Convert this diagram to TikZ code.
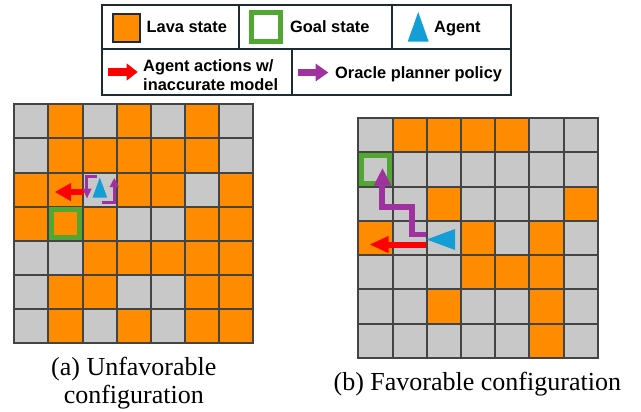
\documentclass[tikz,border=0pt]{standalone}
\usepackage{fontspec}
\setmainfont{Liberation Serif}
\newfontfamily\legfont{Liberation Sans}
\definecolor{lavaC}{RGB}{255,140,0}
\definecolor{freeC}{RGB}{200,200,200}
\definecolor{lineC}{RGB}{68,68,68}
\definecolor{goalC}{RGB}{82,166,50}
\definecolor{agentC}{RGB}{20,158,214}
\definecolor{actC}{RGB}{255,0,0}
\definecolor{oracleC}{RGB}{160,50,160}
\definecolor{frameC}{RGB}{30,42,52}
\newcommand\mkgrid[4]{%
  \fill[freeC] (#1,#2) rectangle ({#1+7*#3},{#2+7*#3});
  \foreach \cc/\rr in {#4} \fill[lavaC] ({#1+\cc*#3},{#2+\rr*#3}) rectangle ++(#3,#3);
  \foreach \kk in {0,...,7} {
    \draw[gridline] ({#1+\kk*#3},#2) -- ({#1+\kk*#3},{#2+7*#3});
    \draw[gridline] (#1,{#2+\kk*#3}) -- ({#1+7*#3},{#2+\kk*#3});
  }
  \draw[gridline] (#1,#2) rectangle ({#1+7*#3},{#2+7*#3});
}
\begin{document}
\begin{tikzpicture}[x=1pt,y=-1pt,
  gridline/.style={draw=lineC,line width=2pt},
  frame/.style={draw=frameC,line width=1.8pt},
  legtext/.style={font=\legfont\bfseries\fontsize{16.4}{19.6}\selectfont,inner sep=0pt},
  captext/.style={font=\fontsize{26}{28}\selectfont,inner sep=0pt},
  goalframe/.style={draw=goalC,line width=5pt},
  oracle/.style={draw=oracleC,line join=miter},
  act/.style={draw=actC}]
\useasboundingbox (0,0) rectangle (641,412);

% ---------- legend ----------
\draw[frame] (101.7,4.7) rectangle (510.7,95.3);
\draw[frame] (101.7,49) -- (510.7,49);
\draw[frame] (239.3,4.7) -- (239.3,49);
\draw[frame] (391.7,4.7) -- (391.7,49);
\draw[frame] (291.7,49) -- (291.7,95.3);

\filldraw[fill=lavaC,draw=frameC,line width=2pt] (113.3,14.3) rectangle (140,41.7);
\draw[goalframe] (251.8,12.5) rectangle (280.8,41.8);
\fill[agentC] (418.2,12) -- (428.7,41.7) -- (407.7,41.7) -- cycle;
\draw[act,line width=7.5pt] (108,72) -- (127.5,72);
\fill[actC] (126.5,63.3) -- (137.7,72) -- (126.5,80.7) -- cycle;
\draw[oracle,line width=7.5pt] (298,72.5) -- (316.5,72.5);
\fill[oracleC] (315.5,63.5) -- (328.3,72.5) -- (315.5,81.5) -- cycle;

\node[legtext,anchor=base west] (tLava) at (146.5,32.3) {Lava state};
\node[legtext,anchor=base west] (tGoal) at (290,32.3) {Goal state};
\node[legtext,anchor=base west] (tAgent) at (434,32.3) {Agent};
\node[legtext,anchor=base west] (tAct1) at (143,71.5) {Agent actions w/};
\node[legtext,anchor=base west] (tAct2) at (143,90.7) {inaccurate model};
\node[legtext,anchor=base west] (tOracle) at (335,78.3) {Oracle planner policy};

% ---------- left grid (unfavorable) ----------
\mkgrid{14.3}{104.3}{34.14}{1/0,3/0,5/0, 1/1,2/1,3/1,4/1,5/1, 0/2,1/2,3/2,4/2,6/2, 0/3,1/3,2/3,5/3,6/3, 2/4,3/4,4/4,5/4,6/4, 1/5,2/5,5/5,6/5, 1/6,3/6,5/6,6/6}
\draw[goalframe] (51.6,209.9) rectangle (79.3,237.6);
% red action
\draw[act,line width=5.5pt] (84,192) -- (70,192);
\fill[actC] (71,183) -- (55,192) -- (71,201.2) -- cycle;
% purple oracle loops
\draw[oracle,line width=3pt] (97,176.3) -- (86.8,176.3) -- (86.8,190);
\fill[oracleC] (82.6,188.7) -- (91.6,188.7) -- (87,198.3) -- cycle;
\draw[oracle,line width=3pt] (101.5,202.3) -- (114.5,202.3) -- (114.5,186);
\fill[oracleC] (109.6,187) -- (119,187) -- (114.3,178) -- cycle;
% agent
\fill[agentC] (99.8,177.5) -- (107.2,197.5) -- (92.6,197.5) -- cycle;

% ---------- right grid (favorable) ----------
\mkgrid{358.3}{118.3}{34.2}{1/0,2/0,3/0,4/0, 2/2,6/2, 0/3,3/3,5/3, 3/4,4/4,5/4, 2/5,5/5, 5/6}
\draw[goalframe] (361.3,155.5) rectangle (389.5,183.7);
% red action
\draw[act,line width=6pt] (426,244.5) -- (387,244.5);
\fill[actC] (388.5,236) -- (370,244.5) -- (388.5,253.2) -- cycle;
% purple oracle path
\draw[oracle,line width=5.6pt] (426,234.5) -- (412,234.5) -- (412,207.2) -- (382.2,207.2) -- (382.2,185);
\fill[oracleC] (373.8,185.5) -- (391.2,185.5) -- (382.5,168.3) -- cycle;
% agent
\fill[agentC] (426.7,239.5) -- (455,229) -- (455,250) -- cycle;

% ---------- captions ----------
\node[captext,anchor=base] (capA1) at (133.8,375) {(a) Unfavorable};
\node[captext,anchor=base] (capA2) at (133.8,403) {configuration};
\node[captext,anchor=base] (capB) at (477.3,390.7) {(b) Favorable configuration};
\end{tikzpicture}
\end{document}
